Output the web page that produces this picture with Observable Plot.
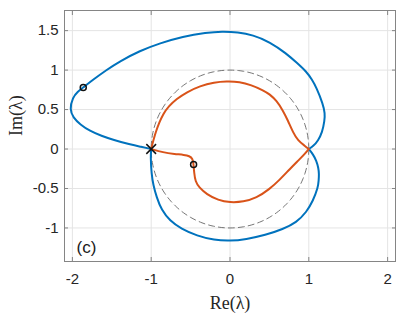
<!DOCTYPE html>
<html><head><meta charset="utf-8">
<script src="https://cdn.jsdelivr.net/npm/d3@7"></script>
<script src="https://cdn.jsdelivr.net/npm/@observablehq/plot@0.6"></script>
<style>body{margin:0;background:#fff}</style>
</head><body><div id="chart"></div>
<script>
const xTicks = [-2, -1, 0, 1, 2];
const yTicks = [-1, -0.5, 0, 0.5, 1, 1.5];

const blueUpper = [
  [-1, 0], [-1.14, 0.03], [-1.27, 0.06], [-1.48, 0.115], [-1.63, 0.165], [-1.78, 0.23],
  [-1.9, 0.31], [-1.99, 0.40], [-2.035, 0.50], [-1.995, 0.655], [-1.935, 0.725], [-1.862, 0.78],
  [-1.735, 0.88], [-1.57, 1.00], [-1.40, 1.11], [-1.143, 1.245], [-0.89, 1.34], [-0.6, 1.425],
  [-0.3, 1.475], [-0.1, 1.49], [0.1, 1.48], [0.29, 1.445], [0.5, 1.36], [0.716, 1.21],
  [0.85, 1.09], [0.97, 0.98], [1.04, 0.88], [1.096, 0.78], [1.18, 0.57], [1.205, 0.45],
  [1.20, 0.36], [1.17, 0.21], [1.117, 0.105], [1.06, 0.04], [1.0, 0.0]
];
const blueLower = [
  [1.0, 0.0], [1.055, -0.07], [1.096, -0.148], [1.122, -0.24], [1.13, -0.317], [1.125, -0.40],
  [1.117, -0.487], [1.053, -0.656], [0.97, -0.80], [0.843, -0.93], [0.673, -1.015], [0.45, -1.09],
  [0.2, -1.145], [0, -1.165], [-0.2, -1.155], [-0.42, -1.10], [-0.62, -1.01], [-0.763, -0.91],
  [-0.87, -0.77], [-0.93, -0.614], [-0.975, -0.45], [-0.995, -0.317], [-1.008, -0.107], [-1.0, 0.0]
];
const orangeLower = [
  [-1, 0], [-0.85, -0.043], [-0.7, -0.063], [-0.58, -0.075], [-0.515, -0.088], [-0.475, -0.12],
  [-0.462, -0.195], [-0.455, -0.30], [-0.44, -0.41], [-0.39, -0.49], [-0.298, -0.571],
  [-0.15, -0.65], [0, -0.678], [0.17, -0.67], [0.336, -0.62], [0.5, -0.51], [0.63, -0.39],
  [0.758, -0.254], [0.885, -0.127], [0.95, -0.06], [1, 0]
];
const orangeUpper = [
  [1, 0], [0.948, 0.042], [0.863, 0.105], [0.80, 0.21], [0.736, 0.358], [0.673, 0.486],
  [0.59, 0.613], [0.504, 0.694], [0.42, 0.745], [0.27, 0.81], [0.124, 0.852], [-0.045, 0.858],
  [-0.2, 0.845], [-0.38, 0.80], [-0.55, 0.72], [-0.678, 0.635], [-0.78, 0.54], [-0.848, 0.444],
  [-0.90, 0.33], [-0.94, 0.22], [-0.97, 0.12], [-0.988, 0.05], [-1, 0]
];
const circleMarkers = [[-1.862, 0.78], [-0.462, -0.195]];
const crossMarkers = [[-1, 0]];
const unitRadius = 1;
const circleAngles = d3.range(0, 361, 2);

const unitCircle = circleAngles.map(a => [unitRadius * Math.cos(a * Math.PI / 180), unitRadius * Math.sin(a * Math.PI / 180)]);

const BLUE = "#0072BD", ORANGE = "#D95319", AXC = "#858585", TXT = "#262626";
const fmt = d => String(d);
const line = (data, color) => Plot.line(data, {x: d => d[0], y: d => d[1], stroke: color, strokeWidth: 2, curve: "basis"});

const chart = Plot.plot({
  width: 407, height: 314,
  marginLeft: 64, marginRight: 12, marginTop: 10, marginBottom: 53,
  x: {domain: [-2.1, 2.1]},
  y: {domain: [-1.425, 1.755]},
  style: {fontFamily: "'Liberation Sans', Arial, sans-serif", fontSize: "15px", color: TXT, background: "#fff"},
  marks: [
    Plot.gridX(xTicks, {stroke: "#e4e4e4", strokeOpacity: 1}),
    Plot.gridY(yTicks, {stroke: "#e4e4e4", strokeOpacity: 1}),
    Plot.line(unitCircle, {x: d => d[0], y: d => d[1], stroke: "#666", strokeWidth: 0.9, strokeDasharray: "6,4"}),
    line(blueUpper, BLUE), line(blueLower, BLUE),
    line(orangeLower, ORANGE), line(orangeUpper, ORANGE),
    Plot.dot(circleMarkers, {x: d => d[0], y: d => d[1], r: 3, stroke: "#111", strokeWidth: 1.5, fill: "none"}),
    Plot.dot(crossMarkers, {x: d => d[0], y: d => d[1], r: 4.5, symbol: "times", stroke: "#111", strokeWidth: 1.5}),
    Plot.frame({stroke: AXC}),
    Plot.axisX(xTicks, {anchor: "bottom", tickSize: 0, tickPadding: 12, tickFormat: fmt, fill: TXT}),
    Plot.axisY(yTicks, {anchor: "left", tickSize: 0, tickPadding: 6, tickFormat: fmt, fill: TXT}),
    Plot.axisX(xTicks, {anchor: "bottom", tickSize: -4, tickFormat: () => "", stroke: AXC, label: null}),
    Plot.axisX(xTicks, {anchor: "top", tickSize: -4, tickFormat: () => "", stroke: AXC, label: null}),
    Plot.axisY(yTicks, {anchor: "left", tickSize: -4, tickFormat: () => "", stroke: AXC, label: null}),
    Plot.axisY(yTicks, {anchor: "right", tickSize: -4, tickFormat: () => "", stroke: AXC, label: null}),
    Plot.text(["(c)"], {frameAnchor: "bottom-left", dx: 12, dy: -9, textAnchor: "start", lineAnchor: "bottom", fontSize: 17, fill: "#1a1a1a"}),
    Plot.text(["Re(λ)"], {frameAnchor: "bottom", dy: 42, lineAnchor: "middle", fontFamily: "'Liberation Serif', serif", fontSize: 18, fill: TXT}),
    Plot.text(["Im(λ)"], {frameAnchor: "left", dx: -48, rotate: -90, lineAnchor: "middle", fontFamily: "'Liberation Serif', serif", fontSize: 18, fill: TXT})
  ]
});
document.getElementById("chart").appendChild(chart);
</script>
</body></html>
